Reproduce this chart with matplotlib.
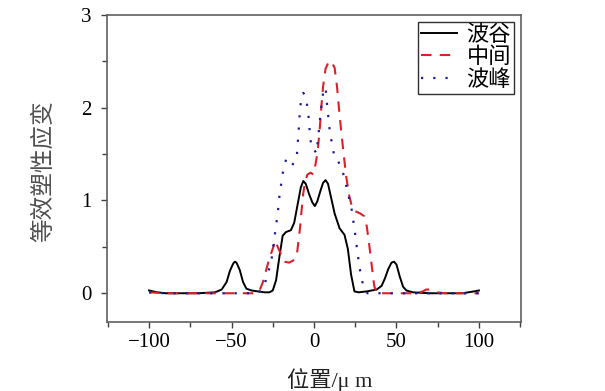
import matplotlib
matplotlib.use("Agg")
import matplotlib.pyplot as plt
import numpy as np
from matplotlib.ticker import MultipleLocator

plt.rcParams['font.family'] = ['Liberation Serif', 'Noto Sans CJK SC']
plt.rcParams['axes.unicode_minus'] = True

# 波谷 (solid black)
x_gu = [-100, -95, -90, -80, -70, -60, -56, -53, -51, -49, -48, -47, -45, -43, -41, -38, -34,
        -30, -27, -25, -23, -21, -19, -17, -14, -12, -10, -8, -6.5, -5, -3, -1, 0.5, 2, 4,
        5.5, 7, 8.5, 10, 12.5, 15.5, 18.5, 20.5, 22.5, 24.5, 27, 32, 38, 41, 43, 45, 47,
        48.5, 50, 52, 54, 56, 60, 70, 80, 90, 97, 100]
y_gu = [0.03, 0.01, 0.0, 0.0, 0.0, 0.01, 0.04, 0.12, 0.24, 0.32, 0.34, 0.33, 0.25, 0.12, 0.05,
        0.03, 0.02, 0.01, 0.01, 0.03, 0.14, 0.39, 0.62, 0.66, 0.68, 0.76, 0.95, 1.14, 1.21,
        1.18, 1.07, 0.98, 0.94, 0.99, 1.11, 1.19, 1.22, 1.18, 1.06, 0.86, 0.70, 0.63, 0.48,
        0.20, 0.02, 0.01, 0.02, 0.04, 0.08, 0.16, 0.26, 0.33, 0.34, 0.31, 0.18, 0.07, 0.03,
        0.01, 0.0, 0.0, 0.0, 0.02, 0.03]

# 中间 (dashed red)
x_mid = [-100, -90, -80, -70, -60, -50, -40, -35, -33, -31, -29, -27, -25, -23.5, -22, -20,
         -18, -15, -12, -10.5, -9.5, -8.5, -7.5, -6.5, -5.5, -4, -2, -0.5, 0.5, 1.5, 2.5,
         3.5, 4.5, 5.5, 7, 9, 10.5, 12.5, 14, 15.5, 17.5, 19.5, 21.5, 23.5, 25.5, 28, 30.5,
         32, 33.5, 35, 36.5, 38, 45, 55, 62, 66, 68, 70, 74, 80, 90, 100]
y_mid = [0.01, 0.0, 0.0, 0.0, 0.0, 0.0, 0.0, 0.0, 0.03, 0.12, 0.25, 0.38, 0.48, 0.57, 0.50,
         0.42, 0.34, 0.33, 0.36, 0.40, 0.55, 0.70, 0.90, 1.08, 1.19, 1.28, 1.30, 1.28, 1.35,
         1.45, 1.58, 1.78, 2.02, 2.23, 2.42, 2.50, 2.50, 2.43, 2.22, 1.92, 1.58, 1.26, 1.04,
         0.90, 0.88, 0.86, 0.83, 0.72, 0.52, 0.30, 0.08, 0.0, 0.0, 0.0, 0.0, 0.02, 0.04,
         0.04, 0.01, 0.0, 0.0, 0.0]

# 波峰 (dotted blue)
x_feng = [-100, -90, -80, -70, -60, -50, -40, -35, -32, -30, -28, -26, -24, -22, -21, -19,
          -17, -15, -13.5, -12, -10.5, -9.5, -8.5, -7.5, -6.5, -5, -3.5, -2.5, -1.5, 0, 1.5,
          2.5, 3.5, 4.5, 5.5, 7, 8, 9.5, 11, 12.5, 14.5, 16.5, 18.5, 20.5, 22.5, 24.5, 26.5,
          28.5, 30.5, 32.5, 40, 50, 60, 70, 80, 90, 100]
y_feng = [0.01, 0.0, 0.0, 0.0, 0.0, 0.0, 0.0, 0.0, 0.03, 0.09, 0.22, 0.33, 0.60, 0.86, 1.04,
          1.29, 1.44, 1.40, 1.37, 1.42, 1.46, 1.70, 1.98, 2.12, 2.16, 2.12, 1.95, 1.72, 1.56,
          1.55, 1.51, 1.67, 1.85, 2.02, 2.16, 2.22, 2.02, 1.76, 1.60, 1.46, 1.43, 1.35, 1.25,
          1.08, 0.94, 0.70, 0.42, 0.18, 0.04, 0.0, 0.0, 0.0, 0.0, 0.0, 0.0, 0.0, 0.0]

fig = plt.figure(figsize=(6.05, 3.91), dpi=100)
ax = fig.add_axes([107/605, 1-322/391, 414/605, 307/391])

ax.plot(x_gu, y_gu, color='black', lw=1.4, label='波谷')
ax.plot(x_mid, y_mid, color='#dc2028', lw=1.5, dashes=(5, 4), label='中间')
ax.plot(x_feng, y_feng, color='#1c1ca0', lw=1.6, dashes=(1, 4.5), label='波峰')

ax.set_xlim(-125.5, 125.5)
ax.set_ylim(-0.31, 3)
ax.xaxis.set_major_locator(MultipleLocator(50))
ax.xaxis.set_minor_locator(MultipleLocator(25))
ax.yaxis.set_major_locator(MultipleLocator(1))
ax.yaxis.set_minor_locator(MultipleLocator(0.5))

for s in ax.spines.values():
    s.set_color('#606060')
    s.set_linewidth(1.2)
ax.tick_params(which='both', direction='out', color='#404040', width=1.0, labelsize=15)
ax.tick_params(which='major', length=4)
ax.tick_params(which='minor', length=3.5)
ax.tick_params(axis='y', pad=7)
ax.tick_params(axis='x', pad=4)

ax.set_xlabel('位置/μ m', fontsize=16, color='#202020')
ax.xaxis.set_label_coords(0.537, -0.15)
ax.set_ylabel('等效塑性应变', fontsize=17, color='#505050')
ax.yaxis.set_label_coords(-0.125, 0.49)

leg = ax.legend(loc='upper right', fontsize=16, labelspacing=0.08, handlelength=1.6,
                handletextpad=0.45, borderpad=0.15, borderaxespad=0.3, fancybox=False,
                framealpha=1, edgecolor='#303030')
leg.get_frame().set_linewidth(1.0)

fig.savefig('out.png', dpi=100)
